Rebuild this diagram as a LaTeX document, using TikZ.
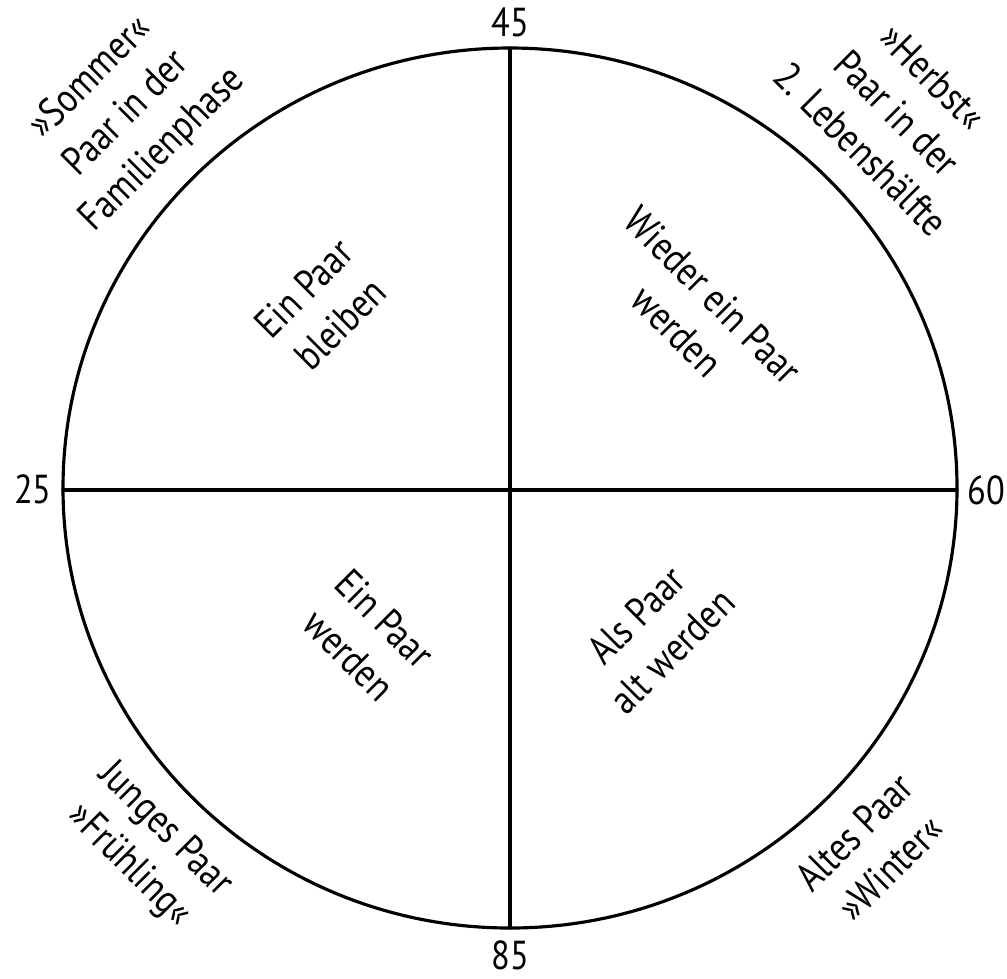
\documentclass[tikz,border=0pt]{standalone}
\usepackage{fontspec}
\setmainfont{PT Sans}[FakeStretch=0.85]
\begin{document}
\begin{tikzpicture}[
	x=0.01cm, y=-0.01cm,
	line join=round,
	line cap=round,
	font=\fontsize{11.5}{14.5}\selectfont,
	linie/.style={line width=0.9pt},
	feld/.style={align=center, inner sep=0pt},
	zahl/.style={inner sep=0pt}
	]
	
	\useasboundingbox (0,0) rectangle (1007,978);
	
	% Kreis
	\draw[linie] (510,488) ellipse [x radius=447, y radius=440];
	
	% Achsen
	\coordinate (oben) at (510,48);
	\coordinate (unten) at (510,928);
	\coordinate (links) at (63,490);
	\coordinate (rechts) at (957,490);
	\draw[linie] (oben) -- (unten);
	\draw[linie] (links) -- (rechts);
	
	% Altersmarken
	\foreach \n/\x/\y in {45/510/22, 85/510/955, 25/33/489, 60/986/490}{
		\node[zahl] (z\n) at (\x,\y) {\n};
	}
	
	% Innere Felder
	\node[feld, rotate=45] (bleiben) at (322,306) {Ein Paar\\bleiben};
	\node[feld, rotate=-45] (wieder) at (695,313) {Wieder ein Paar\\werden};
	\node[feld, rotate=-45] (werden) at (367,637) {Ein Paar\\werden};
	\node[feld, rotate=45] (alt) at (654,633) {Als Paar\\alt werden};
	
	% Jahreszeiten
	\node[feld, rotate=45] (sommer) at (127,114)
		{»Sommer«\\Paar in der\\Familienphase};
	\node[feld, rotate=-45] (herbst) at (897,113)
		{»Herbst«\\Paar in der\\2. Lebenshälfte};
	\node[feld, rotate=-45] (fruehling) at (147,848)
		{Junges Paar\\»Frühling«};
	\node[feld, rotate=45] (winter) at (872,850)
		{Altes Paar\\»Winter«};
	
\end{tikzpicture}
\end{document}
